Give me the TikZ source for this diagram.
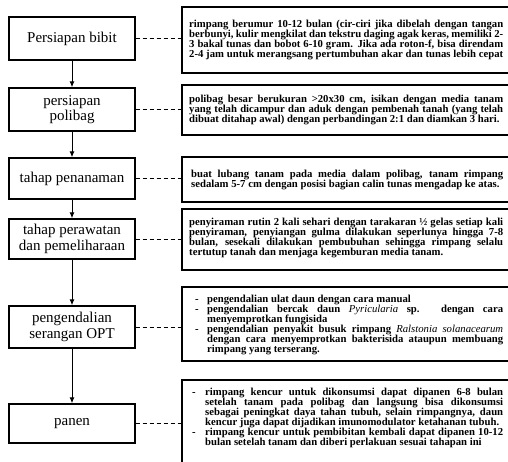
\documentclass[tikz,border=0pt]{standalone}
\usepackage{fontspec}
\setmainfont{Liberation Serif}
\usetikzlibrary{arrows.meta}
\newcommand\descitem[2]{\par\noindent\hangindent=#1\hangafter=1\makebox[#1][l]{-}#2\par}
\begin{document}
\begin{tikzpicture}[x=1pt,y=-1pt,
  stepbox/.style={draw, line width=1.4pt, minimum width=126pt, inner sep=0pt,
    align=center, font=\fontsize{15}{15.5}\selectfont},
  descbox/.style={draw, line width=1.7pt, minimum width=334pt, inner sep=0pt},
  desctext/.style={anchor=west, text width=314pt, align=justify, inner sep=0pt,
    font=\bfseries\fontsize{10.7}{10}\selectfont},
  flow/.style={-{Latex[length=6pt,width=5pt]}, line width=1pt},
  link/.style={dash pattern=on 4pt off 3pt, line width=0.8pt}]
\useasboundingbox (0,0) rectangle (508,461);

% left step boxes
\node[stepbox, minimum height=43pt] (s1) at (72,38.5) {Persiapan bibit};
\node[stepbox, minimum height=43pt] (s2) at (72,109.5) {persiapan\\polibag};
\node[stepbox, minimum height=41pt] (s3) at (72,178.5) {tahap penanaman};
\node[stepbox, minimum height=40pt] (s4) at (72,239) {tahap perawatan\\dan pemeliharaan};
\node[stepbox, minimum height=42pt] (s5) at (72,327) {pengendalian\\serangan OPT};
\node[stepbox, minimum height=39pt] (s6) at (72,423.5) {panen};

% right description boxes
\node[descbox, minimum height=66pt] (r1) at (349,40) {};
\node[descbox, minimum height=50pt] (r2) at (349,110) {};
\node[descbox, minimum height=45pt] (r3) at (349,179.5) {};
\node[descbox, minimum height=61pt] (r4) at (349,239.5) {};
\node[descbox, minimum height=74pt] (r5) at (349,324) {};
\node[descbox, minimum height=92pt] (r6) at (349,426) {};

% description texts
\node[desctext] (t1) at (189,40) {rimpang berumur 10-12 bulan (cir-ciri jika dibelah dengan tangan\linebreak
berbunyi, kulir mengkilat dan tekstru daging agak keras, memiliki 2-\linebreak
3 bakal tunas dan bobot 6-10 gram. Jika ada roton-f, bisa direndam\linebreak
{\parfillskip=0pt 2-4 jam untuk merangsang pertumbuhan akar dan tunas lebih cepat\par}};
\node[desctext] (t2) at (189,110) {polibag besar berukuran >20x30 cm, isikan dengan media tanam\linebreak
yang telah dicampur dan aduk dengan pembenah tanah (yang telah\linebreak
dibuat ditahap awal) dengan perbandingan 2:1 dan diamkan 3 hari.};
\node[desctext, text width=312pt] (t3) at (191,179.5) {buat lubang tanam pada media dalam polibag, tanam rimpang\linebreak
sedalam 5-7 cm dengan posisi bagian calin tunas mengadap ke atas.};
\node[desctext] (t4) at (189,238) {penyiraman rutin 2 kali sehari dengan tarakaran ½ gelas setiap kali\linebreak
penyiraman, penyiangan gulma dilakukan seperlunya hingga 7-8\linebreak
bulan, sesekali dilakukan pembubuhan sehingga rimpang selalu\linebreak
tertutup tanah dan menjaga kegemburan media tanam.};
\node[desctext, text width=308pt] (t5) at (195,324) {%
\descitem{12pt}{pengendalian ulat daun dengan cara manual}
\descitem{12pt}{pengendalian bercak daun \textmd{\textit{Pyricularia}} sp. dengan cara\linebreak menyemprotkan fungisida}
\descitem{12pt}{pengendalian penyakit busuk rimpang \textmd{\textit{Ralstonia solanacearum}}\linebreak dengan cara menyemprotkan bakterisida ataupun membuang\linebreak rimpang yang terserang.}};
\node[desctext, text width=311pt] (t6) at (192,416.5) {%
\descitem{13pt}{rimpang kencur untuk dikonsumsi dapat dipanen 6-8 bulan\linebreak
setelah tanam pada polibag dan langsung bisa dikonsumsi\linebreak
sebagai peningkat daya tahan tubuh, selain rimpangnya, daun\linebreak
kencur juga dapat dijadikan imunomodulator ketahanan tubuh.}
\descitem{13pt}{rimpang kencur untuk pembibitan kembali dapat dipanen 10-12\linebreak
bulan setelah tanam dan diberi perlakuan sesuai tahapan ini}};

% flow arrows
\draw[flow] (s1) -- (s2);
\draw[flow] (s2) -- (s3);
\draw[flow] (s3) -- (s4);
\draw[flow] (s4) -- (s5);
\draw[flow] (s5) -- (s6);

% dashed links
\foreach \i in {1,...,6} {
  \draw[link] (s\i.east) -- (s\i.east -| r\i.west);
}
\end{tikzpicture}
\end{document}
